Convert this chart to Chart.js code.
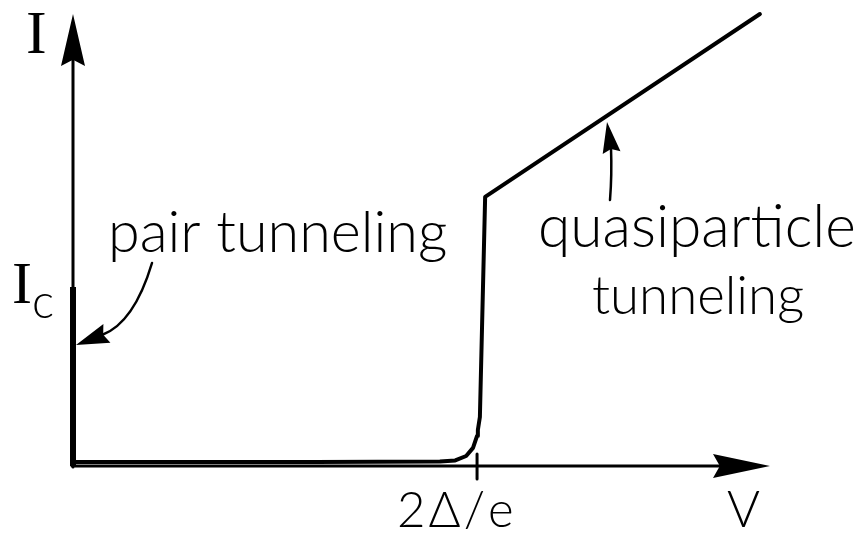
<!DOCTYPE html>
<html>
<head>
<meta charset="utf-8">
<script src="https://cdn.jsdelivr.net/npm/chart.js@4/dist/chart.umd.min.js"></script>
<style>
  html, body { margin: 0; padding: 0; background: #ffffff; }
  #wrap { width: 861px; height: 541px; position: relative; }
</style>
</head>
<body>
<div id="wrap"><canvas id="iv"></canvas></div>
<script>
// Josephson junction I–V characteristic.
// Voltage is in units of 2Δ/e, current in units of the critical current Ic.
const quasiVoltage = [0, 0.30, 0.60, 0.908, 0.946, 0.973, 0.990, 1.000, 1.002, 1.007, 1.020, 1.700];
const quasiCurrent = [0.022, 0.022, 0.023, 0.025, 0.031, 0.056, 0.101, 0.168, 0.201, 0.274, 1.503, 2.525];
const pairVoltage = [0, 0];
const pairCurrent = [0, 1];
const gapTicks = [1];
const gapTickLabels = ['2Δ/e'];
const axisMaxV = 1.725;
const axisMaxI = 2.525;

const toPoints = (xs, ys) => xs.map((x, i) => ({ x: x, y: ys[i] }));

const INK = '#000000';
const SANS = 'Lato, "Liberation Sans", Arial, sans-serif';
const SERIF = '"Liberation Serif", "Times New Roman", serif';

// draw a label; if fitWidth is given the font size is chosen so the text spans that width
function text(ctx, str, x, y, weight, size, family, fitWidth, spacing) {
  ctx.save();
  ctx.fillStyle = INK;
  ctx.textBaseline = 'alphabetic';
  ctx.textAlign = 'left';
  if (spacing !== undefined && 'letterSpacing' in ctx) ctx.letterSpacing = spacing;
  ctx.font = weight + ' ' + size + 'px ' + family;
  if (fitWidth) {
    const w = ctx.measureText(str).width;
    const s = Math.max(20, Math.min(80, size * fitWidth / w));
    ctx.font = weight + ' ' + s.toFixed(1) + 'px ' + family;
  }
  ctx.fillText(str, x, y);
  ctx.restore();
}

// arrowhead with a slightly notched base, tip at (tx, ty), pointing along (dx, dy)
function arrowHead(ctx, tx, ty, dx, dy, len, half) {
  const n = Math.hypot(dx, dy);
  const ux = dx / n, uy = dy / n;
  const px = -uy, py = ux;
  const bx = tx - ux * len, by = ty - uy * len;
  ctx.beginPath();
  ctx.moveTo(tx, ty);
  ctx.lineTo(bx + px * half, by + py * half);
  ctx.lineTo(bx + ux * len * 0.12, by + uy * len * 0.12);
  ctx.lineTo(bx - px * half, by - py * half);
  ctx.closePath();
  ctx.fillStyle = INK;
  ctx.fill();
}

const sketchPlugin = {
  id: 'sketch',
  afterDatasetsDraw(chart) {
    const ctx = chart.ctx;
    const xs = chart.scales.x, ys = chart.scales.y;
    const x0 = xs.getPixelForValue(0), y0 = ys.getPixelForValue(0);
    const xEnd = xs.getPixelForValue(axisMaxV), yEnd = ys.getPixelForValue(axisMaxI);

    ctx.save();
    ctx.strokeStyle = INK;
    ctx.lineCap = 'round';

    // axes
    ctx.lineWidth = 3;
    ctx.beginPath();
    ctx.moveTo(x0 - 1, y0);
    ctx.lineTo(xEnd - 40, y0);
    ctx.moveTo(x0, y0 + 1);
    ctx.lineTo(x0, yEnd + 40);
    ctx.stroke();
    arrowHead(ctx, xEnd, y0, 1, 0, 57, 12);
    arrowHead(ctx, x0, yEnd, 0, -1, 52, 12);

    // gap voltage tick and its label
    gapTicks.forEach((v, i) => {
      const tx = xs.getPixelForValue(v);
      ctx.lineWidth = 3;
      ctx.beginPath();
      ctx.moveTo(tx, y0 - 12);
      ctx.lineTo(tx, y0 + 13);
      ctx.stroke();
      text(ctx, gapTickLabels[i], tx - 80, y0 + 61, 300, 47, SANS, 120, '3px');
    });

    // axis names
    text(ctx, 'I', 26, 53, 400, 62, SERIF);
    text(ctx, 'V', 727, y0 + 61, 300, 47, SANS, 33);

    // critical current label
    const yIc = ys.getPixelForValue(1);
    text(ctx, 'I', 12, yIc + 16, 400, 60, SERIF);
    text(ctx, 'c', 32, yIc + 31, 300, 44, SANS, 22);

    // annotations
    text(ctx, 'pair tunneling', 108, 252, 300, 56, SANS, 339);
    text(ctx, 'quasiparticle', 538, 247, 300, 56, SANS, 318);
    text(ctx, 'tunneling', 592, 314, 300, 56, SANS, 212);

    // curved pointer to the supercurrent branch
    ctx.lineWidth = 2.5;
    const tipX = x0 + 3, tipY = ys.getPixelForValue(0.676);
    ctx.beginPath();
    ctx.moveTo(152, 263);
    ctx.quadraticCurveTo(134, 323, tipX + 26, tipY - 10);
    ctx.stroke();
    arrowHead(ctx, tipX, tipY, -32, 12, 33, 10);

    // pointer to the quasiparticle branch
    ctx.beginPath();
    ctx.moveTo(610, 200);
    ctx.quadraticCurveTo(612, 175, 611, 148);
    ctx.stroke();
    arrowHead(ctx, 607, 122, -0.15, -1, 31, 9);

    ctx.restore();
  }
};

new Chart(document.getElementById('iv'), {
  type: 'scatter',
  data: {
    datasets: [
      {
        label: 'quasiparticle tunneling',
        data: toPoints(quasiVoltage, quasiCurrent),
        showLine: true,
        borderColor: INK,
        borderWidth: 4,
        pointRadius: 0,
        tension: 0,
        borderJoinStyle: 'round',
        borderCapStyle: 'round',
        clip: false
      },
      {
        label: 'pair tunneling',
        data: toPoints(pairVoltage, pairCurrent),
        showLine: true,
        borderColor: INK,
        borderWidth: 6,
        pointRadius: 0,
        clip: false
      }
    ]
  },
  options: {
    responsive: true,
    maintainAspectRatio: false,
    animation: false,
    events: [],
    layout: { padding: { left: 73, right: 91, top: 14, bottom: 75 } },
    plugins: { legend: { display: false }, tooltip: { enabled: false } },
    scales: {
      x: { type: 'linear', display: false, min: 0, max: axisMaxV },
      y: { type: 'linear', display: false, min: 0, max: axisMaxI }
    }
  },
  plugins: [sketchPlugin]
});
</script>
</body>
</html>
